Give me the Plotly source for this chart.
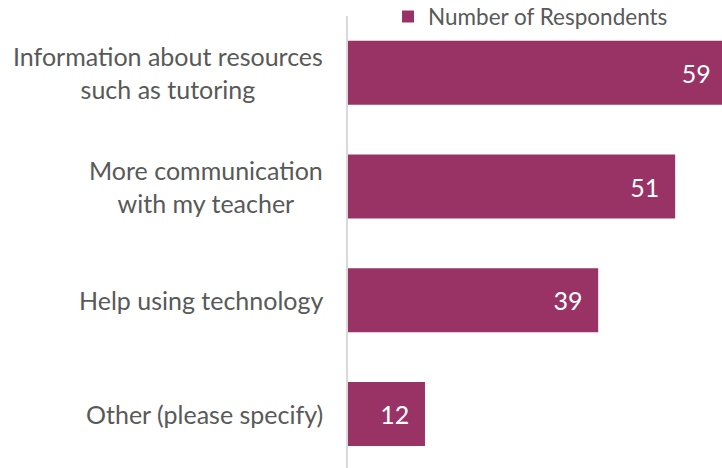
import plotly.graph_objects as go

categories = ["Information about resources<br>such as tutoring",
              "More communication<br>with my teacher",
              "Help using technology",
              "Other (please specify)"]
values = [59, 51, 39, 12]
series_name = "Number of Respondents"

FONT = "Lato"
GREY = "#595959"

fig = go.Figure(go.Bar(
    y=categories, x=values, orientation="h", name=series_name,
    marker=dict(color="#993366", line=dict(width=0)),
    texttemplate="%{x}\u00a0\u00a0", textposition="inside", insidetextanchor="end",
    textfont=dict(color="white", size=25, family=FONT),
    showlegend=True,
))

for c in categories:
    fig.add_annotation(x=0, xref="paper", xanchor="right", xshift=-23,
                       y=c, yref="y", yanchor="middle", text=c, showarrow=False,
                       align="center", font=dict(size=25, color=GREY, family=FONT))

fig.update_layout(
    width=722, height=468,
    margin=dict(l=348, r=0, t=16, b=0, autoexpand=False),
    plot_bgcolor="white", paper_bgcolor="white",
    bargap=0.437,
    font=dict(family=FONT, color=GREY, size=22),
    xaxis=dict(range=[0, 58.3], visible=False, fixedrange=True),
    yaxis=dict(range=[3.475, -0.5], showline=True, linecolor="#d9d9d9", linewidth=2,
               ticks="", showgrid=False, showticklabels=False, fixedrange=True),
    legend=dict(orientation="h", x=0.107, xanchor="left", y=0.998, yanchor="middle",
                yref="paper", font=dict(size=22.5, color=GREY, family=FONT),
                bgcolor="rgba(0,0,0,0)", itemwidth=30),
)

fig.write_html(
    "out.html",
    config={"displayModeBar": False, "staticPlot": True},
    post_script="document.body.style.margin='0';document.body.style.overflow='hidden';"
                "Plotly.relayout('{plot_id}', {width: 722, height: 468});",
)
